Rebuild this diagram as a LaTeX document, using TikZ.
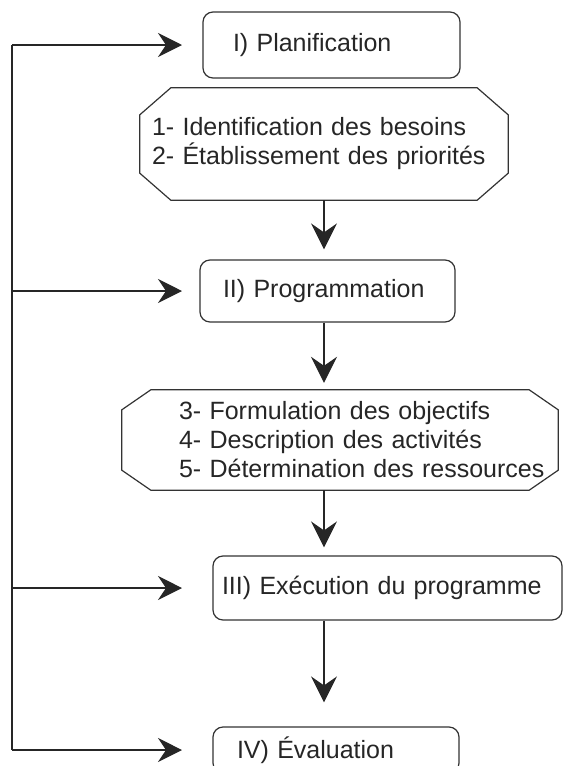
\documentclass[tikz,border=0pt]{standalone}
\usepackage{fontspec}
\setmainfont{Liberation Sans}
\usetikzlibrary{positioning,calc,arrows.meta}
\hyphenpenalty=10000
\exhyphenpenalty=10000

\tikzset{
  stage/.style={draw=black!80, line width=1.2pt, rounded corners=10pt, align=left, inner ysep=0pt},
  task/.style={align=left, inner ysep=0pt},
  taskline/.style={draw=black!80, line width=1.2pt},
  flow/.style={-{Stealth[length=26pt,width=26pt,inset=9pt]}, line width=1.2pt, draw=black!85},
  feed/.style={-{Stealth[length=24pt,width=24pt,inset=8pt]}, line width=1.2pt, draw=black!85}
}

% octagon drawn round a task node
\newcommand\chamfer[3]{%
  \draw[taskline] ($(#1.north west)+(#2pt,0)$) -- ($(#1.north east)+(-#2pt,0)$)
    -- ($(#1.north east)+(0,-#3pt)$) -- ($(#1.south east)+(0,#3pt)$)
    -- ($(#1.south east)+(-#2pt,0)$) -- ($(#1.south west)+(#2pt,0)$)
    -- ($(#1.south west)+(0,#3pt)$) -- ($(#1.north west)+(0,-#3pt)$) -- cycle;}

\begin{document}
\begin{tikzpicture}[x=1pt, y=-1pt, text=black!85, font=\fontsize{25}{29}\selectfont]
  \useasboundingbox (0,0) rectangle (568,766);
  \clip (0,0) rectangle (568,766);

  % Nodes
  \node[stage, inner xsep=30pt, text width=197pt, minimum height=66pt] (plan) at (331.5,45) {I)~Planification};
  \node[task, inner xsep=12pt, text width=344pt, minimum height=112pt] (ident) at (324,144)
    {1-~Identification~des~besoins\\2-~Établissement~des~priorités};
  \node[stage, inner xsep=23pt, text width=209pt, minimum height=62pt] (prog) at (327.5,291) {II)~Programmation};
  \node[task, inner xsep=57pt, text width=322pt, minimum height=100pt] (form) at (340,440)
    {3-~Formulation~des~objectifs\\4-~Description~des~activités\\5-~Détermination~des~ressources};
  \node[stage, inner xsep=9pt, text width=331pt, minimum height=64pt] (exec) at (387.5,588) {III)~Exécution~du~programme};
  \node[stage, inner xsep=24pt, text width=198pt, minimum height=46pt] (eval) at (336,750) {IV)~Évaluation};

  \chamfer{ident}{31}{27}
  \chamfer{form}{29}{20}

  \coordinate (axis) at (324,0);
  \coordinate (rail) at (12,0);
  \coordinate (tip) at (182,0);

  % Arrows
  \draw[flow, shorten >=10pt] (ident.south -| axis) -- (prog.north -| axis);
  \draw[flow, shorten >=7pt] (prog.south -| axis) -- (form.north -| axis);
  \draw[flow, shorten >=8pt] (form.south -| axis) -- (exec.north -| axis);
  \draw[flow, shorten >=24pt] (exec.south -| axis) -- (eval.north -| axis);

  % feedback rail
  \draw[line width=1.2pt, draw=black!85] (plan.west -| rail) -- (eval.west -| rail);
  \draw[feed] (plan.west -| rail) -- (plan.west -| tip);
  \draw[feed] (prog.west -| rail) -- (prog.west -| tip);
  \draw[feed] (exec.west -| rail) -- (exec.west -| tip);
  \draw[feed] (eval.west -| rail) -- (eval.west -| tip);
\end{tikzpicture}
\end{document}
